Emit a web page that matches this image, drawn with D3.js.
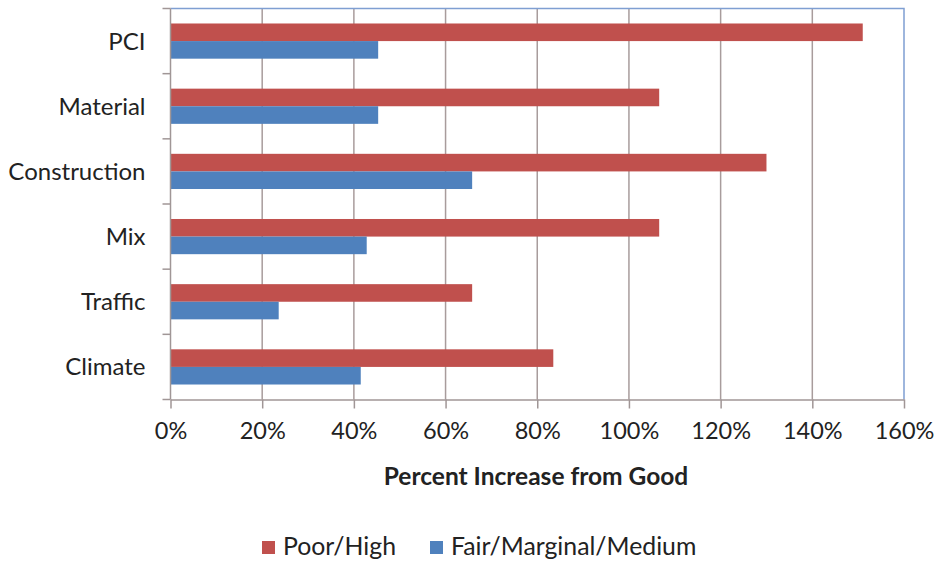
<!DOCTYPE html>
<html>
<head>
<meta charset="utf-8">
<script src="https://cdn.jsdelivr.net/npm/d3@7/dist/d3.min.js"></script>
<style>
  html, body { margin: 0; padding: 0; background: #fff; }
  svg { display: block; }
  text { font-family: Lato, "Open Sans", sans-serif; fill: #222; }
</style>
</head>
<body>
<svg id="chart" width="943" height="563"></svg>
<script>
// Categories, top to bottom
const categories = ["PCI", "Material", "Construction", "Mix", "Traffic", "Climate"];
// Percent increase from Good
const poorHigh = [151, 106.6, 130, 106.6, 65.8, 83.5];
const fairMedium = [45.3, 45.3, 65.8, 42.8, 23.6, 41.5];
const seriesNames = ["Poor/High", "Fair/Marginal/Medium"];
const seriesColors = ["#c0504d", "#4f81bd"];
const xTicks = [0, 20, 40, 60, 80, 100, 120, 140, 160];

const svg = d3.select("#chart");
const plotLeft = 170.5, plotRight = 904, plotTop = 8.5, plotBottom = 399.5;

const x = d3.scaleLinear().domain([0, 160]).range([plotLeft, plotRight]);
const y = d3.scaleBand().domain(categories).range([plotTop, plotBottom]).paddingInner(0.46).paddingOuter(0.23);
const sub = d3.scaleBand().domain([0, 1]).range([0, y.bandwidth()]);

// Vertical gridlines
svg.append("g").selectAll("line").data(xTicks.slice(1, -1)).join("line")
  .attr("x1", d => x(d)).attr("x2", d => x(d))
  .attr("y1", plotTop).attr("y2", plotBottom)
  .attr("stroke", "#a89c9c").attr("stroke-width", 1.5);

// Plot frame: top and right edges
svg.append("path")
  .attr("d", `M${plotLeft},${plotTop}H${plotRight}V${plotBottom}`)
  .attr("fill", "none").attr("stroke", "#7f9fd2").attr("stroke-width", 1.5);

// Bars
const rows = categories.map((c, i) => ({ c, vals: [poorHigh[i], fairMedium[i]] }));
const g = svg.append("g");
rows.forEach(r => {
  r.vals.forEach((v, k) => {
    g.append("rect")
      .attr("x", x(0))
      .attr("y", y(r.c) + sub(k))
      .attr("width", x(v) - x(0))
      .attr("height", sub.bandwidth())
      .attr("fill", seriesColors[k]);
  });
});

// Bottom axis
const xAxis = d3.axisBottom(x).tickValues(xTicks).tickFormat(d => d + "%").tickSize(9).tickSizeOuter(0).tickPadding(14);
const gx = svg.append("g").attr("transform", `translate(0,${plotBottom})`).call(xAxis);
gx.select(".domain").attr("stroke", "#a09696").attr("stroke-width", 1.5);
gx.selectAll(".tick line").attr("stroke", "#a09696").attr("stroke-width", 1.5);
gx.selectAll(".tick text").attr("font-size", 23.5).attr("fill", "#222")
  .style("font-family", "Lato, sans-serif");

// Left axis with ticks at category boundaries
const step = (plotBottom - plotTop) / categories.length;
const gy = svg.append("g");
gy.append("line").attr("x1", plotLeft).attr("x2", plotLeft).attr("y1", plotTop).attr("y2", plotBottom)
  .attr("stroke", "#a09696").attr("stroke-width", 1.5);
gy.selectAll("line.tk").data(d3.range(categories.length + 1)).join("line").attr("class", "tk")
  .attr("x1", plotLeft - 8).attr("x2", plotLeft)
  .attr("y1", i => plotTop + i * step).attr("y2", i => plotTop + i * step)
  .attr("stroke", "#a09696").attr("stroke-width", 1.5);
gy.selectAll("text").data(categories).join("text")
  .attr("x", plotLeft - 25)
  .attr("y", d => y(d) + y.bandwidth() / 2 - 1)
  .attr("text-anchor", "end").attr("dominant-baseline", "central")
  .attr("font-size", 24).text(d => d);

// Axis title
svg.append("text").attr("x", 536).attr("y", 485).attr("text-anchor", "middle")
  .attr("font-size", 24.5).attr("font-weight", "bold").text("Percent Increase from Good");

// Legend
const legend = svg.append("g");
const legendItems = [{ x: 262, name: seriesNames[0], color: seriesColors[0] },
                     { x: 430, name: seriesNames[1], color: seriesColors[1] }];
legendItems.forEach(it => {
  legend.append("rect").attr("x", it.x).attr("y", 541).attr("width", 13).attr("height", 13).attr("fill", it.color);
  legend.append("text").attr("x", it.x + 21).attr("y", 555).attr("font-size", 24.8).text(it.name);
});
</script>
</body>
</html>
